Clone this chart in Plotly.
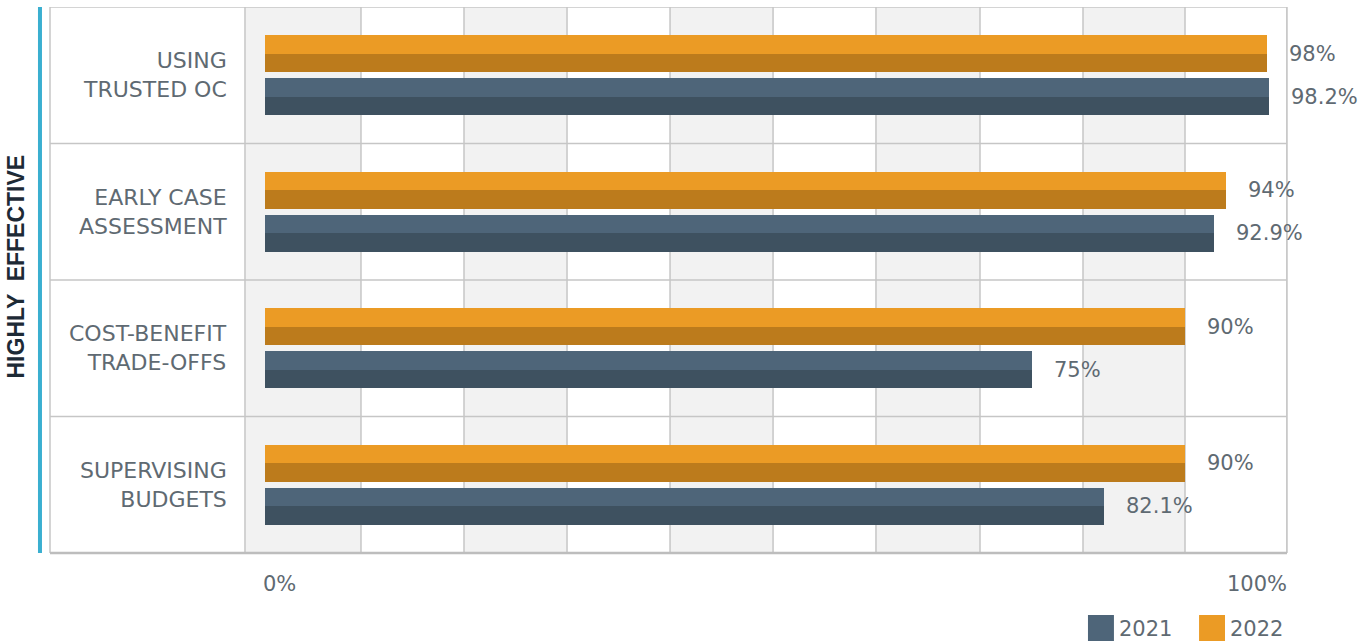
import plotly.graph_objects as go

# ---------------- data ----------------
categories = ["USING<br>TRUSTED OC", "EARLY CASE<br>ASSESSMENT",
              "COST-BENEFIT<br>TRADE-OFFS", "SUPERVISING<br>BUDGETS"]
values_2021 = [98.2, 92.9, 75, 82.1]
values_2022 = [98, 94, 90, 90]
labels_2021 = ["98.2%", "92.9%", "75%", "82.1%"]
labels_2022 = ["98%", "94%", "90%", "90%"]
series_names = ["2021", "2022"]
axis_title = "HIGHLY  EFFECTIVE"
x_tick_values = [0, 100]
x_tick_labels = ["0%", "100%"]

# ---------------- style ----------------
C21_LIGHT, C21_DARK = "#4E6579", "#3E5160"
C22_LIGHT, C22_DARK = "#EB9B25", "#BC7B1C"
TEXT = "#5f6a72"
GRID = "#c6c6c6"
BAND = "#f2f2f2"
FONT = "DejaVu Sans"
FS_CAT = 22
FS_VAL = 21
HALF = 0.1355
# vertical grid positions (data units) used for decoration bands
grid_x = [-1.96, 9.39, 19.47, 29.55, 39.63, 49.71, 59.78, 69.96, 80.04, 90.02, 100]
X_MIN = -21.04

fig = go.Figure()

bar_specs = [
    (values_2022, C22_LIGHT, -0.293),
    (values_2022, C22_DARK, -0.293 + HALF),
    (values_2021, C21_LIGHT, 0.022),
    (values_2021, C21_DARK, 0.022 + HALF),
]
for vals, col, off in bar_specs:
    fig.add_trace(go.Bar(
        y=categories, x=vals, orientation="h",
        width=HALF, offset=off,
        marker=dict(color=col, line=dict(width=0)),
        showlegend=False, hoverinfo="x+y",
    ))

shapes = []
# background bands
for i in range(0, len(grid_x) - 1, 2):
    shapes.append(dict(type="rect", xref="x", yref="paper",
                       x0=grid_x[i], x1=grid_x[i + 1], y0=0, y1=1,
                       fillcolor=BAND, line=dict(width=0), layer="below"))
# vertical grid lines
for gx in grid_x:
    shapes.append(dict(type="line", xref="x", yref="paper", x0=gx, x1=gx, y0=0, y1=1,
                       line=dict(color=GRID, width=1.5), layer="below"))
# horizontal row separators
for k in range(len(categories) + 1):
    shapes.append(dict(type="line", xref="paper", yref="y",
                       x0=0, x1=1, y0=k - 0.5, y1=k - 0.5,
                       line=dict(color=GRID, width=1.5), layer="below"))
# left & right borders
for px in (0, 1):
    shapes.append(dict(type="line", xref="paper", yref="paper", x0=px, x1=px, y0=0, y1=1,
                       line=dict(color=GRID, width=1.5), layer="below"))
# bottom border (slightly heavier)
shapes.append(dict(type="line", xref="paper", yref="paper", x0=0, x1=1, y0=0, y1=0,
                   line=dict(color="#bdbdbd", width=2.5)))
# blue accent line
shapes.append(dict(type="line", xref="paper", yref="paper", x0=-0.0081, x1=-0.0081,
                   y0=0, y1=1, line=dict(color="#3AAFD0", width=4)))
# legend swatches
shapes.append(dict(type="rect", xref="paper", yref="paper", x0=0.8391, x1=0.8601,
                   y0=-0.1612, y1=-0.1136, fillcolor=C21_LIGHT, line=dict(width=0)))
shapes.append(dict(type="rect", xref="paper", yref="paper", x0=0.9289, x1=0.9499,
                   y0=-0.1612, y1=-0.1136, fillcolor=C22_LIGHT, line=dict(width=0)))

ann = []
tf_cat = dict(family=FONT, size=FS_CAT, color=TEXT)
tf = dict(family=FONT, size=FS_VAL, color=TEXT)
for i, cat in enumerate(categories):
    ann.append(dict(x=0, y=i, xref="x", yref="y", text=cat, showarrow=False,
                    xanchor="right", yanchor="middle", align="right", xshift=-36,
                    font=tf_cat))
    ann.append(dict(x=values_2022[i], y=i, xref="x", yref="y", text=labels_2022[i],
                    showarrow=False, xanchor="left", yanchor="middle",
                    xshift=20, yshift=21.5, font=tf))
    ann.append(dict(x=values_2021[i], y=i, xref="x", yref="y", text=labels_2021[i],
                    showarrow=False, xanchor="left", yanchor="middle",
                    xshift=20, yshift=-21.5, font=tf))
# x-axis end labels
ann.append(dict(x=x_tick_values[0], y=-0.0568, xref="x", yref="paper",
                text=x_tick_labels[0], showarrow=False, xanchor="left",
                yanchor="middle", xshift=-4, font=tf))
ann.append(dict(x=x_tick_values[1], y=-0.0568, xref="x", yref="paper",
                text=x_tick_labels[1], showarrow=False, xanchor="right",
                yanchor="middle", xshift=2, font=tf))
# legend texts
ann.append(dict(x=0.865, y=-0.1383, xref="paper", yref="paper", text=series_names[0],
                showarrow=False, xanchor="left", yanchor="middle", xshift=-3, font=tf))
ann.append(dict(x=0.9547, y=-0.1383, xref="paper", yref="paper", text=series_names[1],
                showarrow=False, xanchor="left", yanchor="middle", xshift=-3, font=tf))
# vertical axis title
ann.append(dict(x=-0.0275, y=0.5247, xref="paper", yref="paper", text="<b>" + axis_title + "</b>",
                showarrow=False, textangle=-90, xanchor="center", yanchor="middle",
                font=dict(family="Liberation Sans", size=23, color="#1d2a36")))

fig.update_layout(
    width=1371, height=641,
    margin=dict(l=50, r=84, t=7, b=88, pad=0),
    paper_bgcolor="white", plot_bgcolor="white",
    barmode="overlay", bargap=0,
    shapes=shapes, annotations=ann,
    showlegend=False,
    xaxis=dict(range=[X_MIN, 100], showgrid=False, zeroline=False, showline=False,
               showticklabels=False, ticks="", fixedrange=True),
    yaxis=dict(type="category", categoryorder="array", categoryarray=categories,
               range=[len(categories) - 0.5, -0.5], showgrid=False, zeroline=False,
               showline=False, showticklabels=False, ticks="", fixedrange=True),
    font=dict(family=FONT, color=TEXT),
)

fig.write_html("out.html", config={"displayModeBar": False},
               post_script="document.body.style.margin='0px';document.body.style.overflow='hidden';")
